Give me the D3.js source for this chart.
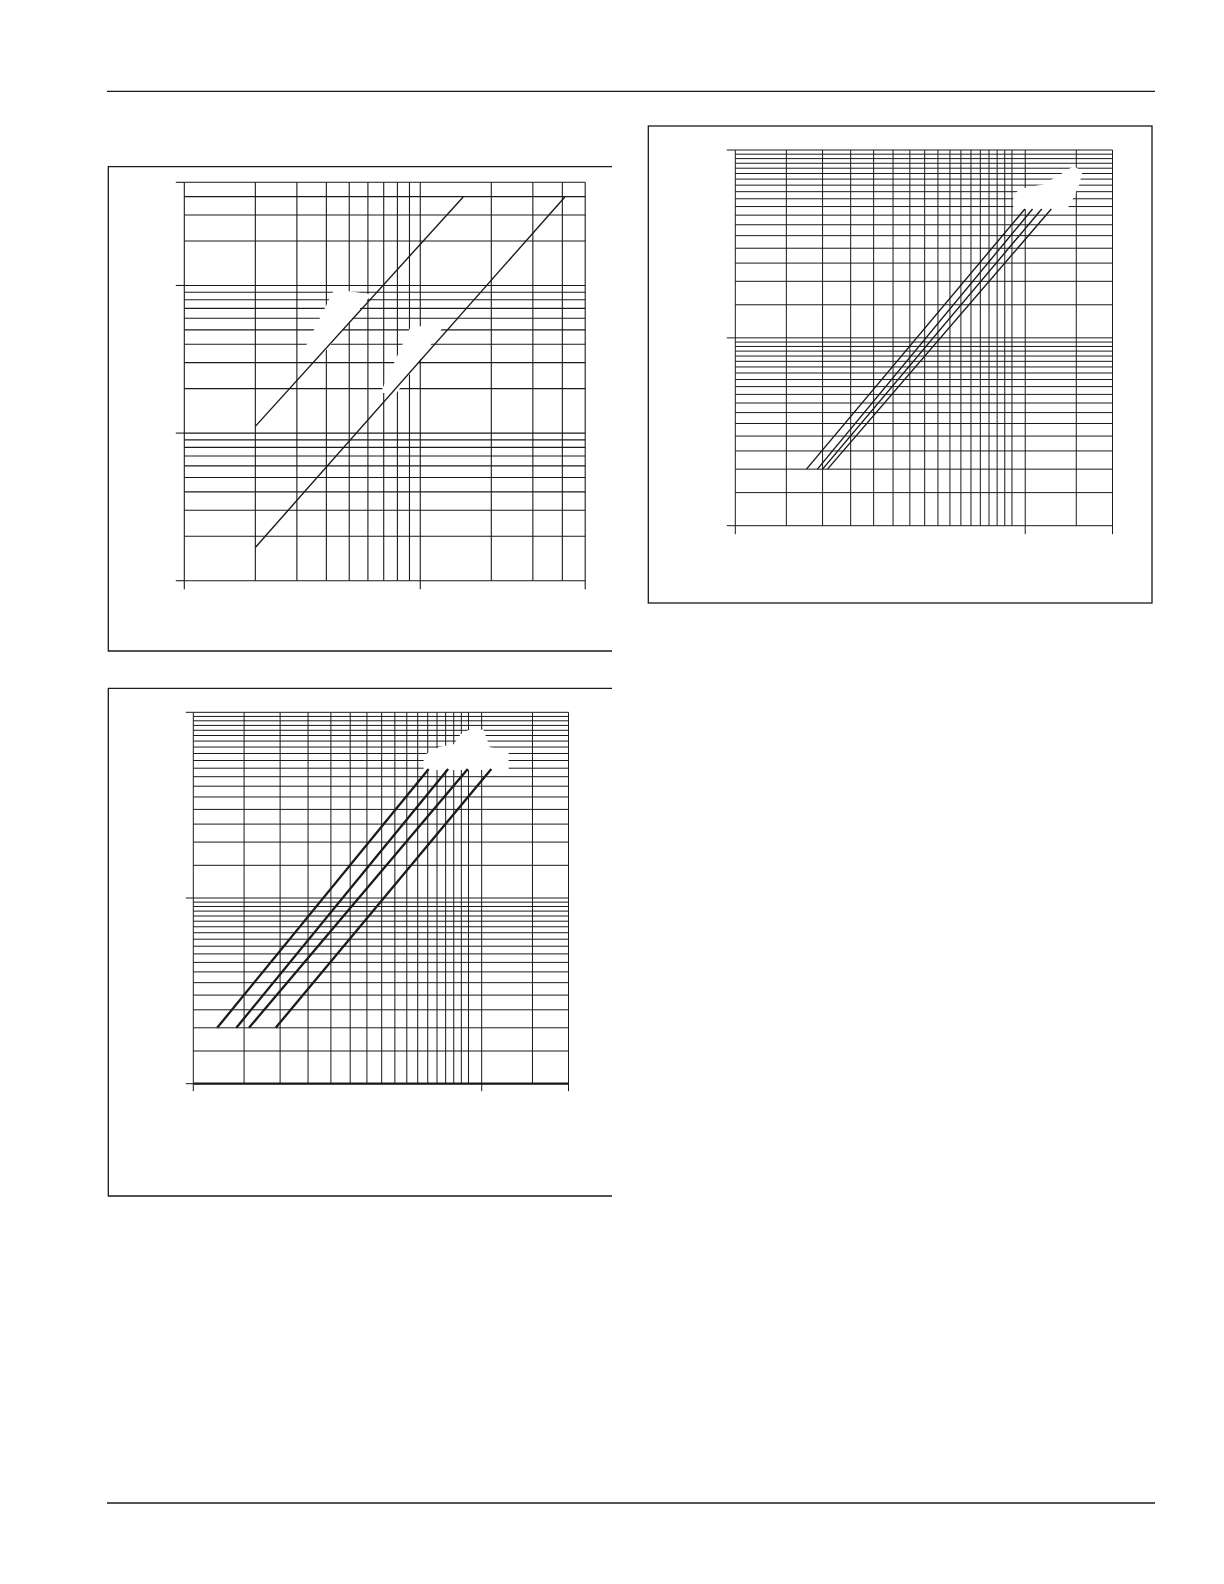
<!DOCTYPE html>
<html><head><meta charset="utf-8">
<script src="https://cdn.jsdelivr.net/npm/d3@7"></script>
<style>html,body{margin:0;padding:0;background:#fff}svg{display:block}</style>
</head><body>
<script>
// ---------- DATA ----------
// Chart 1 (top-left): log-log, x 1..50, y 1..500
const c1XGrid = [1,2,3,4,5,6,7,8,9,10,20,30,40,50];
const c1YGrid = [1,2,3,4,5,6,7,8,9,10,20,30,40,50,60,70,80,90,100,200,300,400,500];
const c1XTicks = [1,10,50];
const c1YTicks = [1,10,100,500];
const c1SeriesA = [[2,11.1],[15.2,398]];
const c1SeriesB = [[2,1.68],[41,398]];
const c1Masks = [
  [[3.25,36.5],[3.95,36.5],[6.1,86],[4.35,93]],
  [[6.88,19],[7.89,19],[12.1,50],[9.22,53]]
];
// Chart 2 (bottom-left): log-log, x 1..20, y 1..100
const halfSteps = [1,1.5,2,2.5,3,3.5,4,4.5,5,5.5,6,6.5,7,7.5,8,8.5,9,9.5];
const c2XGrid = [1,1.5,2,2.5,3,3.5,4,4.5,5,5.5,6,6.5,7,7.5,8,8.5,9,10,15,20];
const c2YGrid = halfSteps.concat(halfSteps.map(v=>v*10)).concat([100]);
const c2XTicks = [1,10,20];
const c2YTicks = [1,10,100];
const c2Series = [
  [[1.21,2],[6.55,49.5]],
  [[1.41,2],[7.65,49.5]],
  [[1.56,2],[8.95,49.5]],
  [[1.93,2],[10.8,49.5]]
];
const c2Masks = [
  [[6.34,49.5],[12.3,49.5],[12.3,61.1],[10.6,64.2],[10.1,79.3],[9.43,82.3],[8.5,75.5],[8.05,66.7],[7.14,64.2],[6.34,58.2]]
];
// Chart 3 (top-right): log-log, x 1..20, y 1..100
const c3XGrid = c2XGrid.slice();
const c3YGrid = c2YGrid.slice();
const c3XTicks = [1,10,20];
const c3YTicks = [1,10,100];
const c3Series = [
  [[1.76,2],[9.97,48.5]],
  [[1.92,2],[10.6,48.5]],
  [[2.0,2],[11.4,48.5]],
  [[2.08,2],[12.3,48.5]]
];
const c3Masks = [
  [[9.17,49.1],[13.9,49.1],[14.7,57.5],[15.3,66.7],[15.6,76.3],[14.7,81.1],[13.3,73.5],[11.6,65],[9.54,61.2],[9.17,55.5]]
];

// ---------- DRAW ----------
const W = 1224, H = 1584;
const svg = d3.select("body").append("svg").attr("width", W).attr("height", H);
const ink = "#1a1a1a";

// page rules
svg.append("line").attr("x1",107).attr("x2",1155).attr("y1",91.3).attr("y2",91.3).attr("stroke",ink).attr("stroke-width",1.3);
svg.append("line").attr("x1",107).attr("x2",1155).attr("y1",1503).attr("y2",1503).attr("stroke",ink).attr("stroke-width",1.3);

// frames
function openFrame(x0, x1, y0, y1){
  svg.append("path").attr("d",`M${x1},${y0}H${x0}V${y1}H${x1}`).attr("fill","none").attr("stroke",ink).attr("stroke-width",1.3);
}
openFrame(108.3, 612, 166.7, 651);
openFrame(108.3, 612, 688.3, 1196);
svg.append("rect").attr("x",648.3).attr("y",126).attr("width",1152-648.3).attr("height",603-126)
  .attr("fill","none").attr("stroke",ink).attr("stroke-width",1.3);

function drawChart(o){
  const x = d3.scaleLog().domain(o.xDomain).range(o.xRange);
  const y = d3.scaleLog().domain(o.yDomain).range(o.yRange);
  const g = svg.append("g");
  const [xa,xb] = o.xRange, [ya,yb] = o.yRange;
  g.selectAll(".vg").data(o.xGrid).join("line")
    .attr("x1",d=>x(d)).attr("x2",d=>x(d)).attr("y1",yb).attr("y2",ya)
    .attr("stroke",ink).attr("stroke-width",o.gridW);
  g.selectAll(".hg").data(o.yGrid).join("line")
    .attr("x1",xa).attr("x2",xb).attr("y1",d=>y(d)).attr("y2",d=>y(d))
    .attr("stroke",ink).attr("stroke-width",o.gridW);
  // ticks
  g.selectAll(".yt").data(o.yTicks).join("line")
    .attr("x1",xa-o.tickLen).attr("x2",xa).attr("y1",d=>y(d)).attr("y2",d=>y(d))
    .attr("stroke",ink).attr("stroke-width",o.gridW);
  g.selectAll(".xt").data(o.xTicks).join("line")
    .attr("x1",d=>x(d)).attr("x2",d=>x(d)).attr("y1",ya).attr("y2",ya+o.tickLen)
    .attr("stroke",ink).attr("stroke-width",o.gridW);
  if (o.bottomW) {
    g.append("line").attr("x1",xa).attr("x2",xb).attr("y1",ya).attr("y2",ya)
      .attr("stroke",ink).attr("stroke-width",o.bottomW);
  }
  // label masks (erased label areas)
  g.selectAll(".mask").data(o.masks).join("path")
    .attr("d",d=>"M"+d.map(p=>[x(p[0]),y(p[1])].join(",")).join("L")+"Z")
    .attr("fill","#fff").attr("stroke","#fff").attr("stroke-width",2);
  const line = d3.line().x(d=>x(d[0])).y(d=>y(d[1]));
  g.selectAll(".ser").data(o.series).join("path")
    .attr("d",line).attr("fill","none").attr("stroke",ink)
    .attr("stroke-width",o.lineW).attr("stroke-linecap","butt");
}

drawChart({
  xDomain:[1,50], xRange:[184.3,585.2], yDomain:[1,500], yRange:[580.7,182.3],
  xGrid:c1XGrid, yGrid:c1YGrid, xTicks:c1XTicks, yTicks:c1YTicks,
  series:[c1SeriesA,c1SeriesB], masks:c1Masks, gridW:1.1, lineW:1.4, tickLen:8.5
});
drawChart({
  xDomain:[1,20], xRange:[193.3,568.5], yDomain:[1,100], yRange:[1083.7,712.3],
  xGrid:c2XGrid, yGrid:c2YGrid, xTicks:c2XTicks, yTicks:c2YTicks,
  series:c2Series, masks:c2Masks, gridW:1.0, lineW:2.3, tickLen:7.5, bottomW:2.2
});
drawChart({
  xDomain:[1,20], xRange:[735.3,1112.5], yDomain:[1,100], yRange:[525.7,150],
  xGrid:c3XGrid, yGrid:c3YGrid, xTicks:c3XTicks, yTicks:c3YTicks,
  series:c3Series, masks:c3Masks, gridW:1.0, lineW:1.4, tickLen:8.5
});
</script>
</body></html>
